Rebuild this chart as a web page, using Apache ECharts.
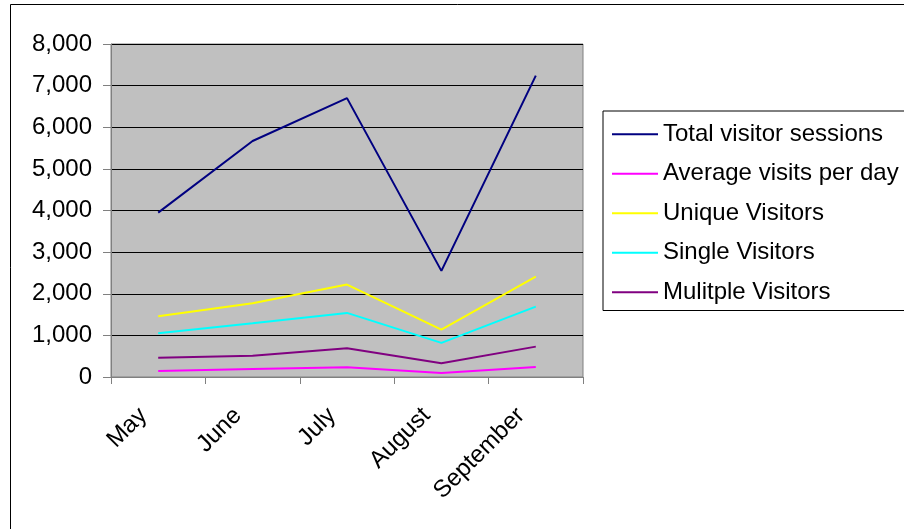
<!DOCTYPE html>
<html>
<head>
<meta charset="utf-8">
<script src="https://cdn.jsdelivr.net/npm/echarts@6/dist/echarts.min.js"></script>
<style>
  html, body { margin: 0; padding: 0; background: #fff; }
  #main { width: 904px; height: 529px; }
</style>
</head>
<body>
<div id="main"></div>
<script>
// months on the x axis
const months = ['May', 'June', 'July', 'August', 'September'];

// values
const totalSessions = [3950, 5670, 6700, 2550, 7240];
const avgPerDay = [145, 195, 235, 95, 240];
const uniqueVisitors = [1460, 1770, 2220, 1140, 2410];
const singleVisitors = [1050, 1290, 1540, 820, 1690];
const multipleVisitors = [460, 510, 690, 330, 730];

const yTicks = [0, 1000, 2000, 3000, 4000, 5000, 6000, 7000, 8000];

const font = 'Liberation Sans, Arial, sans-serif';

function makeLine(name, data, color) {
    return {
        name: name,
        type: 'line',
        data: data,
        symbol: 'none',
        lineStyle: { color: color, width: 2 },
        itemStyle: { color: color },
        animation: false
    };
}

const option = {
    animation: false,
    graphic: [{
        type: 'rect',
        shape: { x: 10.5, y: 4.5, width: 1000, height: 1000 },
        style: { fill: 'none', stroke: '#000', lineWidth: 1 },
        silent: true
    }],
    grid: {
        left: 111,
        top: 44,
        right: 321,
        bottom: 152,
        show: true,
        backgroundColor: '#c0c0c0',
        borderColor: '#808080',
        borderWidth: 1
    },
    legend: {
        orient: 'vertical',
        left: 603,
        top: 111,
        padding: [11, 40, 6, 9],
        icon: 'rect',
        itemWidth: 46,
        itemHeight: 2,
        itemGap: 15,
        borderColor: '#000',
        borderWidth: 1,
        textStyle: { fontFamily: font, fontSize: 24, color: '#000', lineHeight: 24.5 },
        data: ['Total visitor sessions', 'Average visits per day', 'Unique Visitors', 'Single Visitors', 'Mulitple Visitors']
    },
    xAxis: {
        type: 'category',
        data: months,
        boundaryGap: true,
        axisLine: { lineStyle: { color: '#808080', width: 1 } },
        axisTick: { show: true, alignWithLabel: false, length: 7, lineStyle: { color: '#808080' } },
        axisLabel: {
            rotate: 45,
            margin: 20,
            padding: [0, 21, 0, 0],
            fontFamily: font,
            fontSize: 24,
            color: '#000',
            interval: 0
        },
        splitLine: { show: false }
    },
    yAxis: {
        type: 'value',
        min: yTicks[0],
        max: yTicks[yTicks.length - 1],
        interval: 1000,
        axisLine: { show: true, lineStyle: { color: '#808080', width: 1 } },
        axisTick: { show: true, length: 8, lineStyle: { color: '#808080' } },
        axisLabel: {
            margin: 19,
            fontFamily: font,
            fontSize: 24,
            color: '#000',
            formatter: v => v.toLocaleString('en-US')
        },
        splitLine: { show: true, lineStyle: { color: '#000', width: 1 } }
    },
    series: [
        makeLine('Total visitor sessions', totalSessions, '#000080'),
        makeLine('Average visits per day', avgPerDay, '#ff00ff'),
        makeLine('Unique Visitors', uniqueVisitors, '#ffff00'),
        makeLine('Single Visitors', singleVisitors, '#00ffff'),
        makeLine('Mulitple Visitors', multipleVisitors, '#800080')
    ]
};

let plot = echarts.init(document.querySelector('#main'), null, { renderer: 'canvas' });
plot.setOption(option);
</script>
</body>
</html>
